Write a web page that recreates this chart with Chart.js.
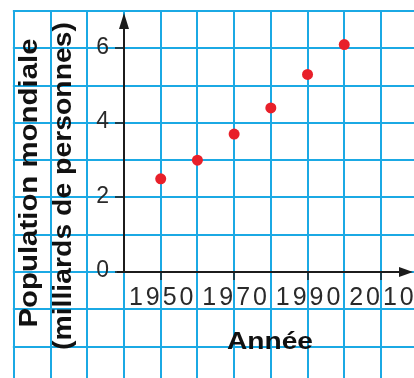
<!DOCTYPE html>
<html>
<head>
<meta charset="utf-8">
<script src="https://cdn.jsdelivr.net/npm/chart.js@4"></script>
<style>
  html, body { margin: 0; padding: 0; background: #fff; }
  canvas { display: block; }
</style>
</head>
<body>
<canvas id="c" width="414" height="378"></canvas>
<script>
const years = [1950, 1960, 1970, 1980, 1990, 2000];
const population = [2.5, 3.0, 3.7, 4.4, 5.3, 6.1];
const xTicks = [1950, 1970, 1990, 2010];
const yTicks = [0, 2, 4, 6];
const yTitle = ['Population mondiale', '(milliards de personnes)'];
const xTitle = 'Année';

const gridBlue = '#1ba9e4';
const ink = '#1c1c1c';

// squared paper + arrowed axes, positioned with the chart's scales
const paper = {
  id: 'paper',
  beforeDraw(chart) {
    const {ctx, width, height} = chart;
    ctx.save();
    ctx.fillStyle = '#fff';
    ctx.fillRect(0, 0, width, height);
    ctx.restore();
  },
  beforeDatasetsDraw(chart) {
    const {ctx, width, height, scales: {x, y}} = chart;
    const left = x.getPixelForValue(1910);
    const top = y.getPixelForValue(7);
    ctx.save();
    ctx.strokeStyle = gridBlue;
    ctx.lineWidth = 2;
    for (let v = -3; v <= 7; v++) {
      const py = Math.round(y.getPixelForValue(v));
      ctx.beginPath(); ctx.moveTo(left - 1, py); ctx.lineTo(width, py); ctx.stroke();
    }
    for (let yr = 1910; yr <= 2010; yr += 10) {
      const px = Math.round(x.getPixelForValue(yr));
      ctx.beginPath(); ctx.moveTo(px, top - 1); ctx.lineTo(px, height); ctx.stroke();
    }

    const x0 = Math.round(x.getPixelForValue(1940));
    const y0 = Math.round(y.getPixelForValue(0));
    ctx.strokeStyle = ink;
    ctx.fillStyle = ink;
    ctx.lineWidth = 2;
    // y axis
    ctx.beginPath(); ctx.moveTo(x0, y0 + 1); ctx.lineTo(x0, 20); ctx.stroke();
    ctx.beginPath(); ctx.moveTo(x0, 13); ctx.lineTo(x0 - 5, 29); ctx.lineTo(x0 + 5, 29); ctx.closePath(); ctx.fill();
    // x axis
    ctx.beginPath(); ctx.moveTo(x0 - 7, y0); ctx.lineTo(405, y0); ctx.stroke();
    ctx.beginPath(); ctx.moveTo(413, y0); ctx.lineTo(399, y0 - 5); ctx.lineTo(399, y0 + 5); ctx.closePath(); ctx.fill();
    // tick marks
    ctx.lineWidth = 1.5;
    yTicks.forEach(v => {
      const py = Math.round(y.getPixelForValue(v));
      ctx.beginPath(); ctx.moveTo(x0 - 9, py); ctx.lineTo(x0, py); ctx.stroke();
    });
    xTicks.forEach(v => {
      const px = Math.round(x.getPixelForValue(v));
      ctx.beginPath(); ctx.moveTo(px, y0); ctx.lineTo(px, y0 + 8); ctx.stroke();
    });
    ctx.restore();
  },
  afterDraw(chart) {
    const {ctx, scales: {x, y}} = chart;
    const x0 = x.getPixelForValue(1940);
    const y0 = y.getPixelForValue(0);
    ctx.save();
    ctx.fillStyle = '#2a2a2a';
    ctx.font = '23px "Liberation Sans", Arial, sans-serif';
    ctx.letterSpacing = '0px';
    ctx.textAlign = 'right';
    ctx.textBaseline = 'middle';
    yTicks.forEach(v => ctx.fillText(String(v), x0 - 15, y.getPixelForValue(v) - 1));
    ctx.textAlign = 'center';
    ctx.textBaseline = 'alphabetic';
    ctx.font = '25px "Liberation Sans", Arial, sans-serif';
    ctx.letterSpacing = '3px';
    xTicks.forEach(v => ctx.fillText(String(v), x.getPixelForValue(v) + 2, y0 + 33));
    ctx.letterSpacing = '0px';

    // titles
    ctx.fillStyle = '#111';
    ctx.font = 'bold 24px "Liberation Sans", Arial, sans-serif';
    fitText(ctx, xTitle, 270, 349, 86, 0);
    ctx.font = 'bold 25px "Liberation Sans", Arial, sans-serif';
    fitText(ctx, yTitle[0], 37, 183, 289, -Math.PI / 2);
    fitText(ctx, yTitle[1], 71, 186, 328, -Math.PI / 2);
    ctx.restore();
  }
};

function fitText(ctx, text, cx, cy, target, angle) {
  const w = ctx.measureText(text).width;
  ctx.save();
  ctx.translate(cx, cy);
  ctx.rotate(angle);
  ctx.scale(target / w, 1);
  ctx.textAlign = 'center';
  ctx.textBaseline = 'alphabetic';
  ctx.fillText(text, 0, 0);
  ctx.restore();
}

new Chart(document.getElementById('c'), {
  type: 'scatter',
  data: {
    datasets: [{
      data: years.map((yr, i) => ({x: yr, y: population[i]})),
      backgroundColor: '#e8202a',
      borderWidth: 0,
      pointRadius: 5.5,
      clip: false
    }]
  },
  options: {
    responsive: false,
    animation: false,
    devicePixelRatio: 1,
    layout: {padding: {left: 124, top: 11, right: 0, bottom: 106}},
    plugins: {legend: {display: false}, tooltip: {enabled: false}},
    scales: {
      x: {type: 'linear', min: 1940, max: 2017.5, display: false},
      y: {min: 0, max: 7, display: false}
    }
  },
  plugins: [paper]
});
</script>
</body>
</html>
